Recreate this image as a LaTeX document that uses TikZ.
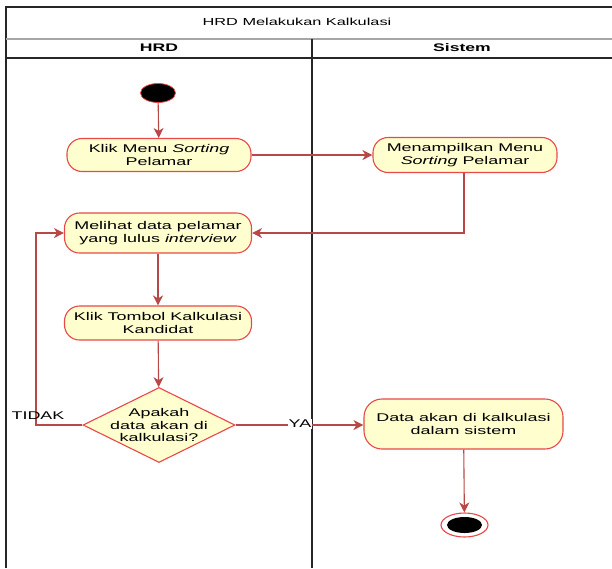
\documentclass[tikz,border=0pt]{standalone}
\usepackage{fontspec}
\setmainfont{Liberation Sans}[FakeStretch=1.6]
\usetikzlibrary{shapes.geometric,arrows.meta}
\definecolor{actfill}{RGB}{254,254,206}
\definecolor{actborder}{RGB}{232,72,72}
\definecolor{flow}{RGB}{184,72,72}
\begin{document}
\begin{tikzpicture}[x=1pt,y=-1pt,
  actbox/.style={draw=actborder,fill=actfill,line width=1.1pt,rounded corners=15pt,
    align=center,inner sep=0pt,font=\fontsize{11.2}{12.5}\selectfont},
  flowline/.style={draw=flow,line width=1.1pt},
  flowarrow/.style={flowline,-{Stealth[length=10pt,width=10pt,inset=3pt]}},
  lbl/.style={inner sep=0pt,font=\fontsize{11.2}{12.5}\selectfont}]
\useasboundingbox (0,0) rectangle (612,568);
% frame
\draw[line width=1.5pt,black!85] (6,568) -- (6,7) -- (612,7);
\draw[line width=1.6pt,black!35] (6,39) -- (612,39);
\draw[line width=1.3pt,black!85] (6,58) -- (612,58);
\draw[line width=1.5pt,black!85] (312,39) -- (312,568);
\node[lbl,font=\fontsize{10.2}{12}\selectfont] (title) at (297,22) {HRD Melakukan Kalkulasi};
\node[lbl,font=\fontsize{11}{12.5}\selectfont\bfseries] (h1) at (159,48) {HRD};
\node[lbl,font=\fontsize{11}{12.5}\selectfont\bfseries] (h2) at (462,48) {Sistem};
% nodes
\node[ellipse,draw=actborder,fill=black,line width=0.8pt,minimum width=35pt,minimum height=19pt,inner sep=0pt] (start) at (158,93) {};
\node[actbox,minimum width=184pt,minimum height=33pt] (b1) at (159,155) {Klik Menu \textit{Sorting}\\Pelamar};
\node[actbox,minimum width=184pt,minimum height=35pt] (b2) at (465,155) {Menampilkan Menu\\\textit{Sorting} Pelamar};
\node[actbox,minimum width=187pt,minimum height=40pt] (b3) at (158,233) {Melihat data pelamar\\yang lulus \textit{interview}};
\node[actbox,minimum width=187pt,minimum height=34pt] (b4) at (158,323) {Klik Tombol Kalkulasi\\Kandidat};
\node[diamond,draw=actborder,fill=actfill,line width=1.1pt,minimum width=152pt,minimum height=75pt,inner sep=0pt] (dec) at (159,425) {};
\node[lbl,align=center] (dectext) at (dec.center) {Apakah\\data akan di\\kalkulasi?};
\node[actbox,minimum width=199pt,minimum height=50pt,rounded corners=18pt] (b5) at (463.5,424) {Data akan di kalkulasi\\dalam sistem};
\node[ellipse,draw=actborder,fill=white,line width=1.1pt,minimum width=47pt,minimum height=24pt,inner sep=0pt] (end) at (464.5,525) {};
\node[ellipse,fill=black,minimum width=35pt,minimum height=16pt,inner sep=0pt] (endin) at (end.center) {};
\coordinate (loopc) at (36,233);
% connectors
\draw[flowarrow] (start) -- (b1);
\draw[flowarrow] (b1) -- (b2);
\draw[flowarrow] (b2.south -| 464,0) |- (b3.east);
\draw[flowarrow] (b3) -- (b4);
\draw[flowarrow] (b4) -- (dec);
\draw[flowarrow] (dec.west) -| (loopc) -- (b3.west);
\draw[flowarrow] (dec.east) -- (b5.west |- dec.east);
\draw[flowarrow] (b5) -- (end);
\node[lbl,fill=white,inner sep=1pt] (ya) at (300,424) {YA};
\node[lbl,anchor=south] (tidak) at (38,420) {TIDAK};
\end{tikzpicture}
\end{document}
